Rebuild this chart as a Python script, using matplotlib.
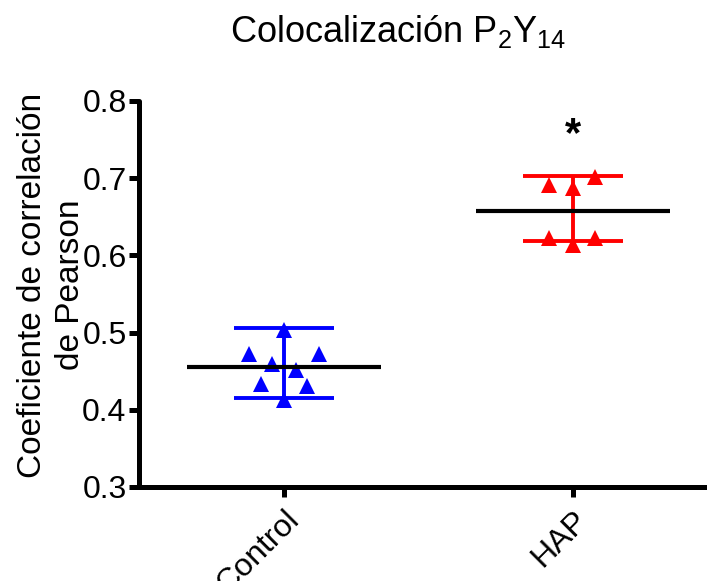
import matplotlib
matplotlib.use("Agg")
import matplotlib.pyplot as plt
import numpy as np

plt.rcParams['font.family'] = ['Liberation Sans', 'DejaVu Sans']
plt.rcParams['mathtext.fontset'] = 'custom'
plt.rcParams['mathtext.rm'] = 'Liberation Sans'
plt.rcParams['mathtext.it'] = 'Liberation Sans'

# Data
groups = ["Control", "HAP"]
control_vals = [0.503, 0.472, 0.472, 0.459, 0.451, 0.433, 0.431, 0.413]
hap_vals = [0.701, 0.691, 0.687, 0.623, 0.623, 0.613]
center_vals = [0.456, 0.658]
whisker_low = [0.415, 0.619]
whisker_high = [0.506, 0.703]
yticks = [0.3, 0.4, 0.5, 0.6, 0.7, 0.8]

# horizontal scatter of the points within each column
control_jitter = [0.0, -0.12, 0.12, -0.04, 0.04, -0.08, 0.08, 0.0]
hap_jitter = [0.076, -0.083, 0.0, -0.083, 0.076, 0.0]

colors = ["#0000ff", "#ff0000"]

fig = plt.figure(figsize=(7.07, 5.81), dpi=100)
ax = fig.add_axes([139 / 707, 94 / 581, (707 - 139) / 707, (487 - 101) / 581])

xpos = np.arange(1, len(groups) + 1)
series = [control_vals, hap_vals]
jitters = [control_jitter, hap_jitter]

for i, (vals, jit) in enumerate(zip(series, jitters)):
    x = xpos[i]
    c = colors[i]
    ax.errorbar([x], [center_vals[i]],
                yerr=[[center_vals[i] - whisker_low[i]], [whisker_high[i] - center_vals[i]]],
                fmt='none', ecolor=c, elinewidth=2.8, capsize=36, capthick=2.8, zorder=2)
    ax.plot(x + np.array(jit), vals, linestyle='none', marker='^', markersize=11.5,
            color=c, markeredgewidth=0, zorder=3)
    ax.hlines(center_vals[i], x - 0.335, x + 0.335, color='black', linewidth=3, zorder=4)

ax.text(xpos[1], 0.742, "*", ha='center', va='baseline', fontsize=30, fontweight='bold')

ax.set_xlim(1 - 145 / 289, 2 + 134 / 289)
ax.set_ylim(0.3, 0.8)
ax.set_yticks(yticks)
ax.set_yticklabels([f"{v:.1f}" for v in yticks])
ax.set_xticks(xpos)
ax.set_xticklabels(groups, rotation=45, ha='right', rotation_mode='anchor')

for s in ['top', 'right']:
    ax.spines[s].set_visible(False)
for s in ['left', 'bottom']:
    ax.spines[s].set_linewidth(3.6)
    ax.spines[s].set_capstyle('round')

ax.tick_params(axis='both', which='major', length=7, width=3.6, labelsize=23, pad=2)
ax.tick_params(axis='x', pad=6)

ax.set_ylabel("Coeficiente de correlación\nde Pearson", fontsize=24, linespacing=1.3)
ax.yaxis.set_label_coords(-0.093, 0.523)

fig.text(0.563, 0.946, r"Colocalización P$_2$Y$_{14}$", ha='center', va='center', fontsize=26)

fig.savefig("out.png", dpi=100)
